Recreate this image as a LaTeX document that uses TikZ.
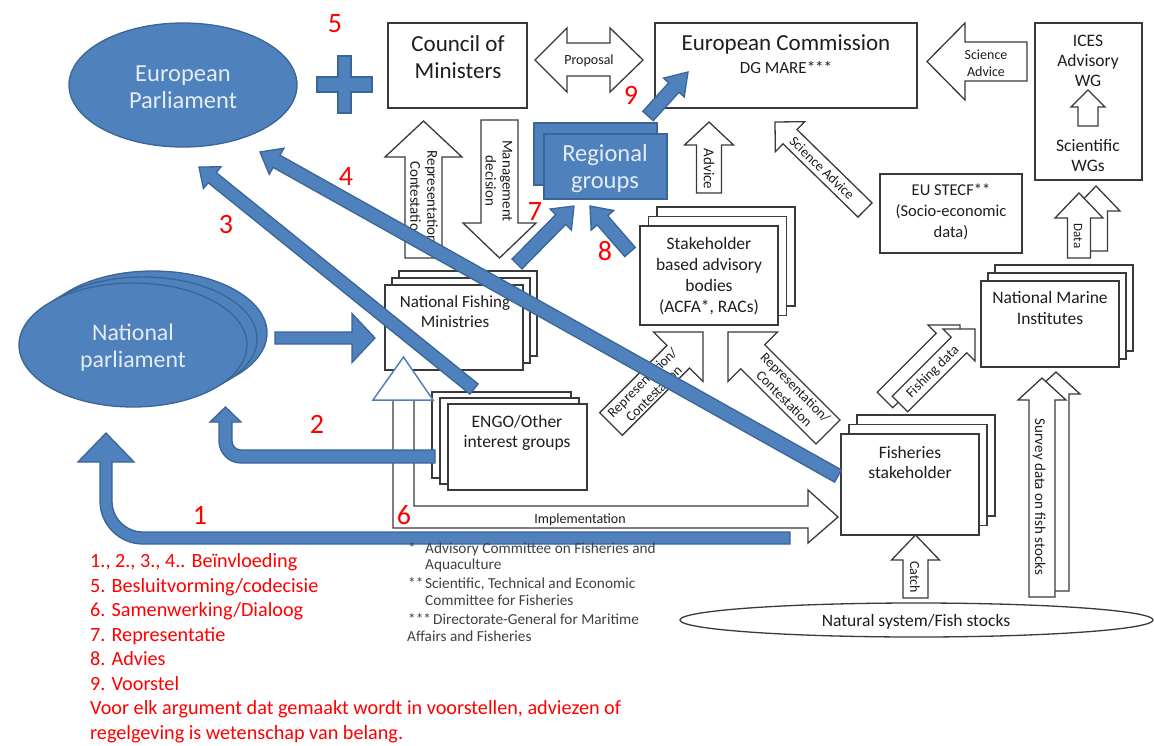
\documentclass[tikz,border=0pt]{standalone}
\usepackage{fontspec}
\setmainfont{Carlito}
\usetikzlibrary{calc,shapes.geometric}
\definecolor{bf}{HTML}{4F81BD}
\definecolor{bd}{HTML}{3A6597}
\definecolor{lc}{HTML}{3A3A3A}
\definecolor{tc}{HTML}{1E1E1E}
\definecolor{rc}{HTML}{FF0000}
\definecolor{wt}{HTML}{E4ECF6}
\newcommand{\fs}[2]{\fontsize{#1}{#2}\selectfont}
% block arrow: [style]{tail}{tip}{half body width}{half head width}{head length}
\newcommand{\barrow}[6][]{%
  \coordinate (bah) at ($(#3)!#6!(#2)$);
  \draw[#1] ($(#2)!#4!90:(#3)$) -- ($(bah)!#4!90:(#3)$) -- ($(bah)!#5!90:(#3)$) -- (#3)
     -- ($(bah)!#5!-90:(#3)$) -- ($(bah)!#4!-90:(#3)$) -- ($(#2)!#4!-90:(#3)$) -- cycle;}
\begin{document}
\begin{tikzpicture}[x=1pt,y=-1pt,
  box/.style={draw=lc,line width=1.3pt,fill=white,inner sep=0pt,outer sep=0pt},
  wa/.style={draw=lc,fill=white,line width=1.3pt,line join=miter},
  bl/.style={draw=bd,fill=bf,line width=1.3pt,line join=miter},
  blt/.style={align=center,inner sep=0pt,text=wt,font=\fs{24.5}{27}},
  lab/.style={align=center,inner sep=0pt,text=tc},
  num/.style={inner sep=0pt,text=rc,font=\fs{28}{30}},
  leg/.style={anchor=base west,inner sep=0pt,text=rc,font=\fs{20.2}{24}},
  fn/.style={anchor=base west,inner sep=0pt,text=tc!85,font=\fs{15.3}{17}},
]
\useasboundingbox (0,0) rectangle (1154,745);
\fill[white] (0,0) rectangle (1154,745);

% ---------- parliaments ----------
\node[ellipse,bl,minimum width=228pt,minimum height=124pt,inner sep=0pt] (ep) at (183,85) {};
\node[blt] (eptxt) at (183,87) {European\\Parliament};
\draw[bl] (338,56) -- (351,56) -- (351,77) -- (372,77) -- (372,92) -- (351,92) -- (351,113)
  -- (338,113) -- (338,92) -- (317,92) -- (317,77) -- (338,77) -- cycle;
\node[ellipse,bl,minimum width=228pt,minimum height=124pt,inner sep=0pt] (np3) at (153,333) {};
\node[ellipse,bl,minimum width=228pt,minimum height=124pt,inner sep=0pt] (np2) at (143,339) {};
\node[ellipse,bl,minimum width=228pt,minimum height=124pt,inner sep=0pt] (np) at (133,345) {};
\node[blt,font=\fs{23.8}{27}] (nptxt) at (133,348) {National\\parliament};

% ---------- top boxes ----------
\node[box,minimum width=139pt,minimum height=85pt] (council) at (457.5,65.5) {};
\node[lab,font=\fs{23}{27}] (counciltxt) at (458,57) {Council of\\Ministers};
\node[box,minimum width=262pt,minimum height=85pt] (ec) at (786,65.5) {};
\node[lab,font=\fs{23}{26}] (ectxt) at (786,44) {European Commission};
\node[lab,font=\fs{17}{18}] (dgtxt) at (786,68) {DG MARE***};
\node[box,minimum width=107pt,minimum height=157pt] (ices) at (1088.5,101.5) {};
\node[lab,font=\fs{17.5}{20}] (icestxt) at (1088,61) {ICES\\Advisory\\WG};
\node[lab,font=\fs{17.5}{20}] (swgtxt) at (1088,156) {Scientific\\WGs};
\node[box,minimum width=142pt,minimum height=79pt] (stecf) at (951,213.5) {};
\node[lab,font=\fs{16.5}{21}] (stecftxt) at (951,212) {EU STECF**\\(Socio-economic\\data)};

% ---------- white block arrows ----------
\draw[wa] (535,60) -- (567,28) -- (567,43) -- (610,43) -- (610,28) -- (643,60) -- (610,92)
  -- (610,76) -- (567,76) -- (567,92) -- cycle;
\node[lab,font=\fs{14}{16}] (proptxt) at (589,61) {Proposal};

\coordinate (srA) at (1027,61.5); \coordinate (srB) at (927,61.5);
\barrow[wa]{srA}{srB}{19.5pt}{38.5pt}{38pt}
\node[lab,font=\fs{14}{17}] (srtxt) at (986,63) {Science\\Advice};

\coordinate (icA) at (1088,126); \coordinate (icB) at (1088,90);
\barrow[wa]{icA}{icB}{10pt}{17pt}{17pt}

\coordinate (rlA) at (423.5,258); \coordinate (rlB) at (423.5,121);
\barrow[wa]{rlA}{rlB}{18.5pt}{38.5pt}{36pt}
\node[lab,font=\fs{15}{17},rotate=-90] (rltxt) at (424,200) {Representation/\\Contestation};

\coordinate (mgA) at (499.5,120); \coordinate (mgB) at (499.5,258);
\barrow[wa]{mgA}{mgB}{18.5pt}{36.5pt}{35pt}
\node[lab,font=\fs{15}{17},rotate=-90] (mgtxt) at (499,181) {Management\\decision};

\coordinate (adA) at (709,193); \coordinate (adB) at (709,122);
\barrow[wa]{adA}{adB}{12.5pt}{24.5pt}{23pt}
\node[lab,font=\fs{15}{17},rotate=-90] (adtxt) at (709,169) {Advice};

\coordinate (sdA) at (865,210); \coordinate (sdB) at (775,122);
\barrow[wa]{sdA}{sdB}{10pt}{21pt}{21pt}
\node[lab,font=\fs{14}{16},rotate=-44] (sdtxt) at (822,168) {Science Advice};

\coordinate (r1A) at (611,424); \coordinate (r1B) at (703,332);
\barrow[wa]{r1A}{r1B}{16pt}{35pt}{35pt}
\node[lab,font=\fs{14}{16},rotate=45] (r1txt) at (648,388) {Representation/\\Contestation};

\coordinate (r2A) at (828,432); \coordinate (r2B) at (728,332);
\barrow[wa]{r2A}{r2B}{17pt}{35pt}{35pt}
\node[lab,font=\fs{14}{16},rotate=-45] (r2txt) at (790,393) {Representation/\\Contestation};

\coordinate (fbA) at (885,400); \coordinate (fbB) at (960,325);
\barrow[wa]{fbA}{fbB}{11pt}{22.6pt}{22.6pt}
\coordinate (ffA) at (900,404); \coordinate (ffB) at (975,329);
\barrow[wa]{ffA}{ffB}{11pt}{22.6pt}{22.6pt}
\node[lab,font=\fs{14}{16},rotate=45] (fdtxt) at (933,372) {Fishing data};

\coordinate (dbA) at (1096,251); \coordinate (dbB) at (1096,186);
\barrow[wa]{dbA}{dbB}{11.5pt}{24pt}{25pt}
\coordinate (dfA) at (1079,258); \coordinate (dfB) at (1079,193);
\barrow[wa]{dfA}{dfB}{11.5pt}{24pt}{25pt}
\node[lab,font=\fs{13}{15},rotate=-90] (dtxt) at (1078,236) {Data};

\coordinate (sbA) at (1056,591); \coordinate (sbB) at (1056,372);
\barrow[wa]{sbA}{sbB}{13pt}{24pt}{22pt}
\coordinate (sfA) at (1042,597); \coordinate (sfB) at (1042,378);
\barrow[wa]{sfA}{sfB}{13pt}{24pt}{22pt}
\node[lab,font=\fs{15}{17},rotate=-90] (svtxt) at (1039,497) {Survey data on fish stocks};

\coordinate (caA) at (915.5,598); \coordinate (caB) at (915.5,535);
\barrow[wa]{caA}{caB}{12.5pt}{24pt}{25pt}
\node[lab,font=\fs{14}{16},rotate=-90] (catxt) at (915,577) {Catch};

% ---------- regional groups ----------
\node[bl,rectangle,minimum width=123pt,minimum height=62pt,inner sep=0pt] (rg2) at (595.5,154) {};
\node[bl,rectangle,minimum width=123pt,minimum height=65pt,inner sep=0pt] (rg) at (605.5,166.5) {};
\node[blt] (rgtxt) at (605,169) {Regional\\groups};

% ---------- stacked boxes ----------
\node[box,minimum width=138pt,minimum height=99pt] (sh3) at (726,256.5) {};
\node[box,minimum width=138pt,minimum height=99pt] (sh2) at (717.5,266) {};
\node[box,minimum width=138pt,minimum height=99pt] (sh) at (709,275.5) {};
\node[lab,font=\fs{17.5}{21}] (shtxt) at (709,276) {Stakeholder\\based advisory\\bodies\\(ACFA*, RACs)};

\node[box,minimum width=138pt,minimum height=85pt] (nfm3) at (468,313.5) {};
\node[box,minimum width=138pt,minimum height=85pt] (nfm2) at (461,320.5) {};
\node[box,minimum width=138pt,minimum height=85pt] (nfm) at (454,327.5) {};
\node[lab,font=\fs{17}{20}] (nfmtxt) at (455,312) {National Fishing\\Ministries};

\node[box,minimum width=139pt,minimum height=86pt] (engo3) at (501.5,435) {};
\node[box,minimum width=139pt,minimum height=86pt] (engo2) at (509.5,441) {};
\node[box,minimum width=139pt,minimum height=86pt] (engo) at (517.5,447) {};
\node[lab,font=\fs{17.5}{20}] (engotxt) at (517,433) {ENGO/Other\\interest groups};

\node[box,minimum width=138pt,minimum height=101pt] (fs3) at (926,465.5) {};
\node[box,minimum width=138pt,minimum height=101pt] (fs2) at (918,475) {};
\node[box,minimum width=138pt,minimum height=101pt] (fs) at (910,484.5) {};
\node[lab,font=\fs{17.5}{20}] (fstxt) at (910,462) {Fisheries\\stakeholder};

\node[box,minimum width=138pt,minimum height=86pt] (nmi3) at (1064,308) {};
\node[box,minimum width=138pt,minimum height=86pt] (nmi2) at (1057,316) {};
\node[box,minimum width=138pt,minimum height=86pt] (nmi) at (1050,324) {};
\node[lab,font=\fs{17.5}{21}] (nmitxt) at (1050,308) {National Marine\\Institutes};

\node[ellipse,draw=lc,line width=1.3pt,fill=white,minimum width=473pt,minimum height=34pt,inner sep=0pt] (nat) at (916.5,620) {};
\node[lab,font=\fs{17.5}{20}] (nattxt) at (916,622) {Natural system/Fish stocks};

% ---------- implementation arrow ----------
\draw[wa,fill=none] (414,400) -- (414,506) -- (808,506) -- (808,490) -- (838,517) -- (808,543)
  -- (808,528) -- (393,528) -- (393,400);
\draw[draw=bf,fill=white,line width=1.5pt,line join=miter] (373,400) -- (403.5,357) -- (433,400) -- cycle;
\node[lab,font=\fs{14}{16}] (imptxt) at (580,520) {Implementation};

% ---------- blue arrows ----------
\coordinate (npA) at (275,338); \coordinate (npB) at (375,338);
\barrow[bl]{npA}{npB}{6pt}{24.5pt}{23pt}
\coordinate (a7A) at (517,264); \coordinate (a7B) at (574,206);
\barrow[bl]{a7A}{a7B}{7pt}{15pt}{19pt}
\coordinate (a8A) at (630,252); \coordinate (a8B) at (590,206);
\barrow[bl]{a8A}{a8B}{7pt}{15pt}{19pt}
\coordinate (a9A) at (648,116); \coordinate (a9B) at (688,72);
\barrow[bl]{a9A}{a9B}{7pt}{14pt}{21pt}
% arrow 2
\draw[bl] (435,450) -- (241,450) arc[start angle=270,end angle=180,radius=9pt] -- (232,422)
  -- (241,422) -- (225.5,407) -- (210,422) -- (219,422) -- (219,441)
  arc[start angle=180,end angle=270,radius=22pt] -- (435,463) -- cycle;
% arrow 1
\draw[bl] (790,532) -- (143,532) arc[start angle=270,end angle=180,radius=31pt] -- (112,462)
  -- (134,462) -- (106,433) -- (78,462) -- (100,462) -- (100,501)
  arc[start angle=180,end angle=270,radius=43pt] -- (790,544) -- cycle;
\coordinate (a3A) at (474,389); \coordinate (a3B) at (199,167);
\barrow[bl]{a3A}{a3B}{6.5pt}{14pt}{17pt}
\coordinate (a4A) at (838,476); \coordinate (a4B) at (260,152);
\barrow[bl]{a4A}{a4B}{7pt}{15pt}{19pt}

% ---------- red numbers ----------
\node[num] (n5) at (335,24) {5};
\node[num] (n9) at (631,95) {9};
\node[num] (n4) at (346,177) {4};
\node[num] (n3) at (226,225) {3};
\node[num] (n7) at (535,212) {7};
\node[num] (n8) at (605,251) {8};
\node[num] (n2) at (317,424) {2};
\node[num] (n1) at (200,515) {1};
\node[num] (n6) at (404,515) {6};

% ---------- legend ----------
\node[leg] (l1) at (90,567.5) {1., 2., 3., 4.. Beïnvloeding};
\node[leg] (l2) at (90,592) {5. Besluitvorming/codecisie};
\node[leg] (l3) at (90,616.5) {6. Samenwerking/Dialoog};
\node[leg] (l4) at (90,641) {7. Representatie};
\node[leg] (l5) at (90,665.5) {8. Advies};
\node[leg] (l6) at (90,690) {9. Voorstel};
\node[leg] (l7) at (90,714.5) {Voor elk argument dat gemaakt wordt in voorstellen, adviezen of};
\node[leg] (l8) at (90,739) {regelgeving is wetenschap van belang.};

% ---------- footnotes ----------
\node[fn] (f1b) at (408,553) {*};
\node[fn] (f1) at (425,553) {Advisory Committee on Fisheries and};
\node[fn] (f2) at (425,569) {Aquaculture};
\node[fn] (f3b) at (408,588) {**};
\node[fn] (f3) at (425,588) {Scientific, Technical and Economic};
\node[fn] (f4) at (425,605) {Committee for Fisheries};
\node[fn] (f5b) at (408,624) {***};
\node[fn] (f5) at (433,624) {Directorate-General for Maritime};
\node[fn] (f6) at (407,641) {Affairs and Fisheries};
\end{tikzpicture}
\end{document}
